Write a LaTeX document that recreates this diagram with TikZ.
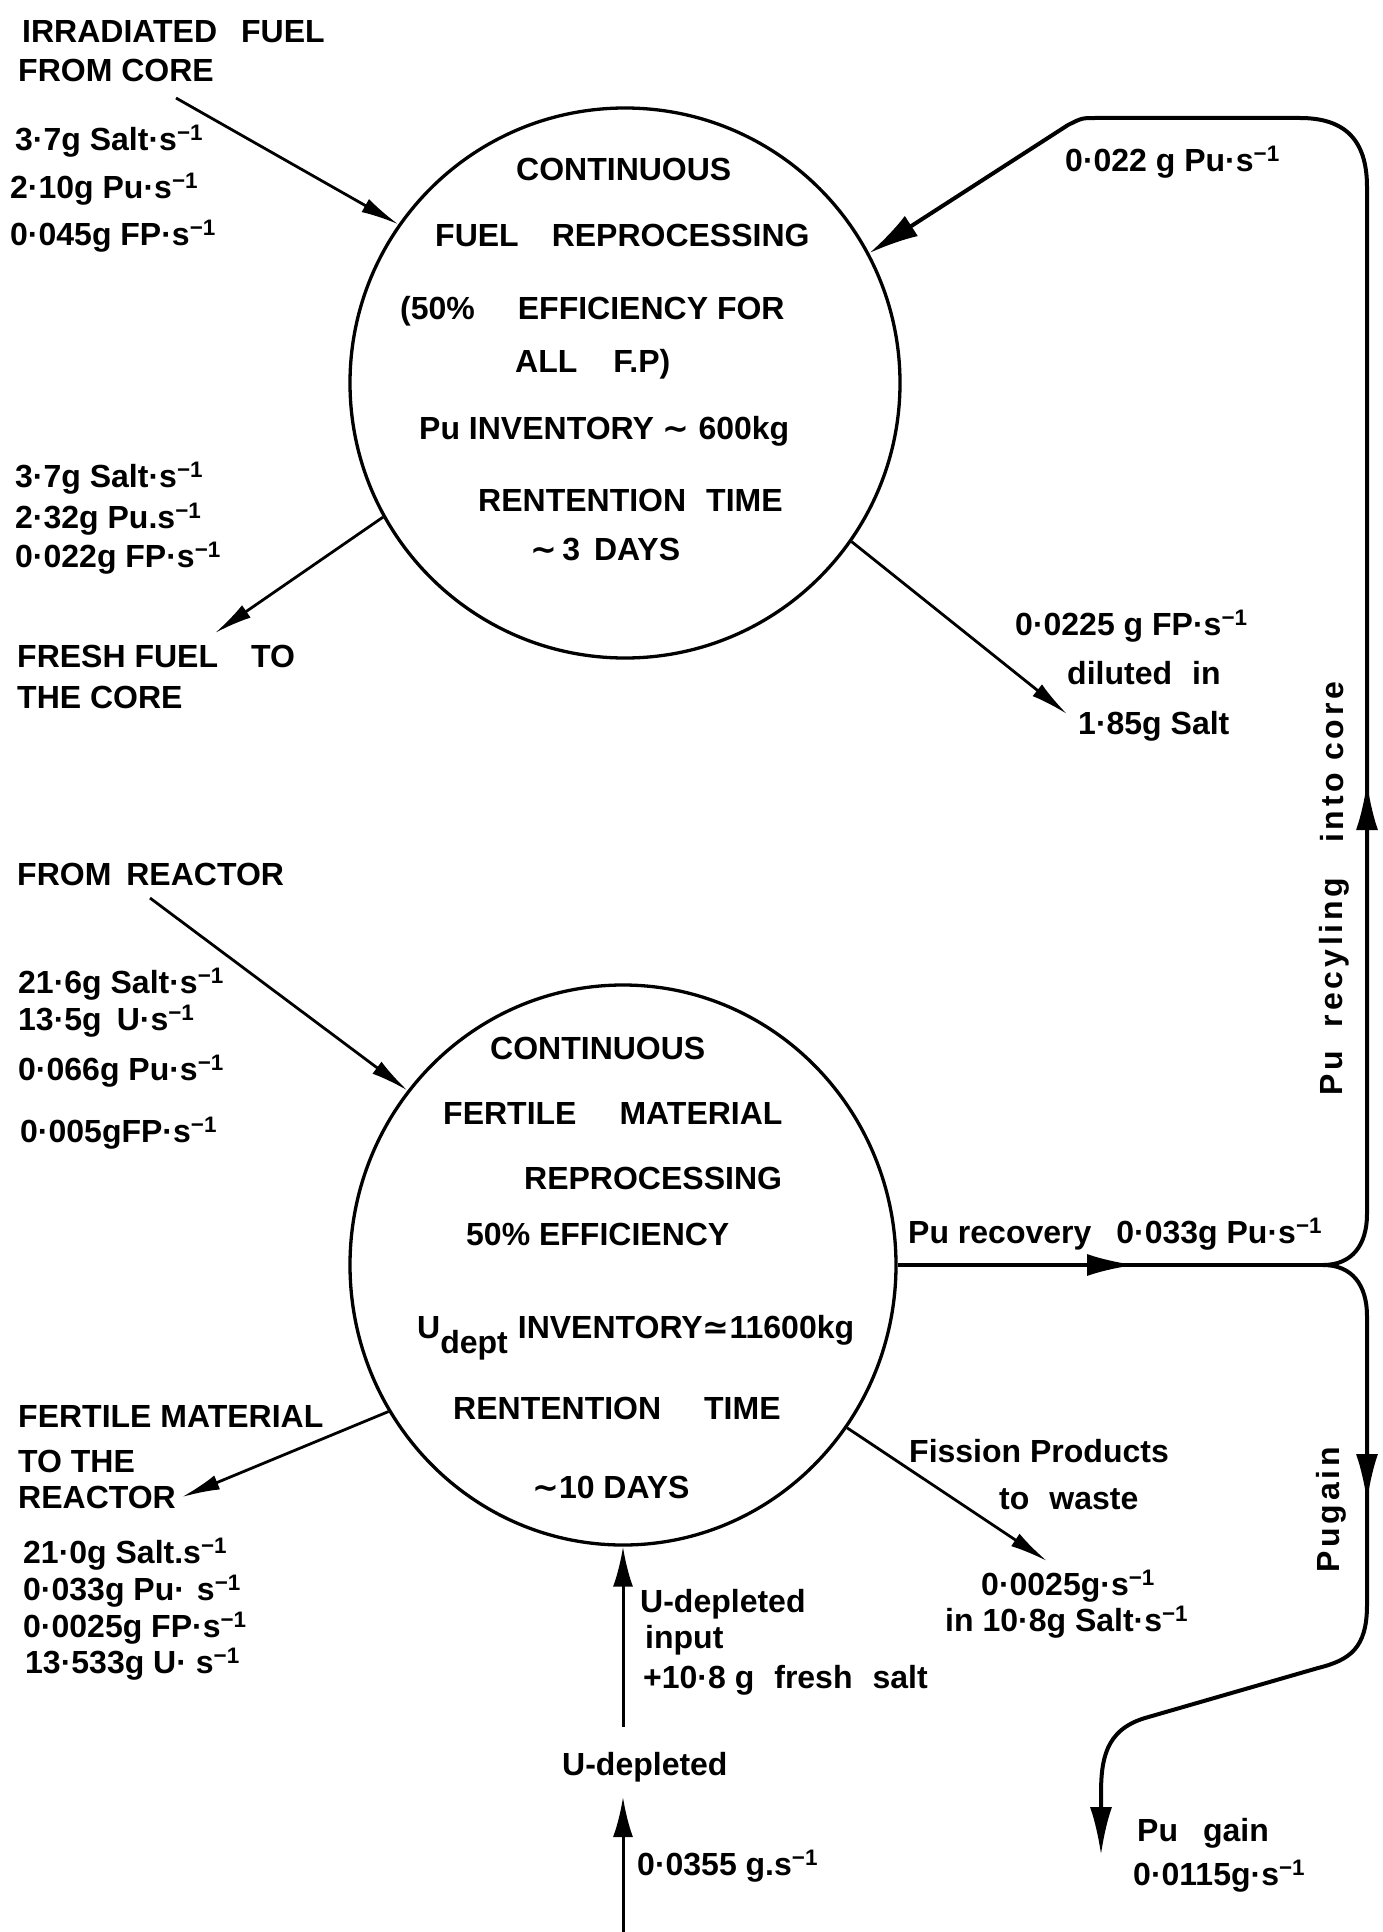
\documentclass[tikz,border=0pt]{standalone}
\usepackage{fontspec}
\setmainfont{Liberation Sans}
\newfontfamily\dejavu{DejaVu Sans}
\newfontfamily\spaced{Liberation Sans}[LetterSpace=12]
\usetikzlibrary{arrows.meta,shapes.geometric}
\newcommand{\sinv}{\textsuperscript{−1}}
\newcommand{\swung}{{\dejavu ∼}}
\begin{document}
\begin{tikzpicture}[x=1pt,y=-1pt,
  t/.style={font=\fontsize{32}{38}\selectfont\bfseries, inner sep=0pt, anchor=base west},
  vt/.style={font=\fontsize{32}{38}\selectfont\spaced\bfseries, inner sep=0pt, anchor=base west, rotate=90},
  ring/.style={draw, line width=3.3pt, inner sep=0pt},
  conn/.style={line width=2.8pt, -{Latex[length=38pt,width=15pt]}},
  upar/.style={line width=3pt, -{Latex[length=40pt,width=20pt]}},
  pipe/.style={line width=4pt},
  midtip/.style={line width=4pt, -{Latex[length=48pt,width=22pt]}}]
\fill[white] (0,0) rectangle (1382,1932);
\useasboundingbox (0,0) rectangle (1382,1932);

% process vessels
\node[ring, circle, minimum size=550pt] (fuel) at (625,383) {};
\node[ring, ellipse, minimum width=546pt, minimum height=560pt] (fert) at (623,1265) {};

% free connector ends
\coordinate (c1) at (176,98);
\coordinate (c2) at (215,633);
\coordinate (c3) at (1067,714);
\coordinate (c4) at (150,898);
\coordinate (c5) at (182,1497);
\coordinate (c6) at (1047,1561);
\coordinate (c7) at (623,1727);
\coordinate (c8) at (623,1932);
\coordinate (c9) at (623,1797);
\coordinate (J) at (1323,1265);
\coordinate (pg) at (1101,1855);

% texts top-left
\node[t] (t1) at (22,43) {IRRADIATED\hspace{24pt}FUEL};
\node[t] (t2) at (18,82) {FROM CORE};
\node[t] (t3) at (15,150) {3·7g Salt·s\sinv};
\node[t] (t4) at (10,198) {2·10g Pu·s\sinv};
\node[t] (t5) at (10,245) {0·045g FP·s\sinv};
\node[t] (t6) at (15,487) {3·7g Salt·s\sinv};
\node[t] (t7) at (15,528) {2·32g Pu.s\sinv};
\node[t] (t8) at (15,567) {0·022g FP·s\sinv};
\node[t] (t9) at (17,667) {FRESH FUEL\hspace{33pt}TO};
\node[t] (t10) at (17,708) {THE CORE};

% top circle text
\node[t] (f1) at (516,180) {CONTINUOUS};
\node[t] (f2) at (435,246) {FUEL\hspace{33pt}REPROCESSING};
\node[t] (f3) at (400,319) {(50\%\hspace{43pt}EFFICIENCY FOR};
\node[t] (f4) at (515,372) {ALL\hspace{36pt}F.P)};
\node[t] (f5) at (419,439) {Pu INVENTORY \swung{} 600kg};
\node[t] (f6) at (478,511) {RENTENTION\hspace{20pt}TIME};
\node[t] (f7) at (530,560) {\swung\,3\hspace{14pt}DAYS};

% top right
\node[t] (r1) at (1065,171) {0·022 g Pu·s\sinv};
\node[t] (r2) at (1015,635) {0·0225 g FP·s\sinv};
\node[t] (r3) at (1067,684) {diluted\hspace{20pt}in};
\node[t] (r4) at (1078,734) {1·85g Salt};

% left middle
\node[t] (m1) at (17,885) {FROM\hspace{15pt}REACTOR};
\node[t] (m2) at (18,993) {21·6g Salt·s\sinv};
\node[t] (m3) at (18,1030) {13·5g\hspace{15pt}U·s\sinv};
\node[t] (m4) at (18,1080) {0·066g Pu·s\sinv};
\node[t] (m5) at (20,1142) {0·005gFP·s\sinv};

% left bottom
\node[t] (l1) at (18,1427) {FERTILE MATERIAL};
\node[t] (l2) at (18,1472) {TO THE};
\node[t] (l3) at (18,1508) {REACTOR};
\node[t] (l4) at (23,1563) {21·0g Salt.s\sinv};
\node[t] (l5) at (23,1600) {0·033g Pu·\hspace{12pt}s\sinv};
\node[t] (l6) at (23,1637) {0·0025g FP·s\sinv};
\node[t] (l7) at (25,1673) {13·533g U· s\sinv};

% bottom circle text
\node[t] (b1) at (490,1059) {CONTINUOUS};
\node[t] (b2) at (443,1124) {FERTILE\hspace{43pt}MATERIAL};
\node[t] (b3) at (524,1189) {REPROCESSING};
\node[t] (b4) at (466,1245) {50\% EFFICIENCY};
\node[t] (b5) at (417,1338) {U\raisebox{-15pt}{dept}\hspace{10pt}INVENTORY{\dejavu ≃}11600kg};
\node[t] (b6) at (453,1419) {RENTENTION\hspace{43pt}TIME};
\node[t] (b7) at (532,1498) {\swung 10 DAYS};

% right bottom
\node[t] (p1) at (908,1243) {Pu recovery\hspace{25pt}0·033g Pu·s\sinv};
\node[t] (p2) at (909,1462) {Fission Products};
\node[t] (p3) at (999,1509) {to\hspace{20pt}waste};
\node[t] (p4) at (981,1595) {0·0025g·s\sinv};
\node[t] (p5) at (945,1631) {in 10·8g Salt·s\sinv};
\node[t] (p6) at (1137,1841) {Pu\hspace{25pt}gain};
\node[t] (p7) at (1133,1885) {0·0115g·s\sinv};

% bottom middle
\node[t] (u1) at (640,1612) {U-depleted};
\node[t] (u2) at (645,1648) {input};
\node[t] (u3) at (643,1688) {+10·8 g\hspace{20pt}fresh\hspace{20pt}salt};
\node[t] (u4) at (562,1775) {U-depleted};
\node[t] (u5) at (637,1875) {0·0355 g.s\sinv};

% rotated labels
\node[vt] (v1) at (1343,843) {into\hspace{12pt}core};
\node[vt] (v2) at (1342,1096) {Pu\hspace{24pt}recyling};
\node[vt] (v3) at (1339,1573) {Pugain};

% connectors
\draw[conn] (c1) -- (fuel.145.8);
\draw[conn] (fuel.209) -- (c2);
\draw[conn] (fuel.325.3) -- (c3);
\draw[conn] (c4) -- (fert.141.9);
\draw[conn] (fert.212.3) -- (c5);
\draw[conn] (fert.324.3) -- (c6);
\draw[upar] (c7) -- (fert.south);
\draw[upar] (c8) -- (c9);

% Pu recovery loop
\draw[pipe] (fert.east) -- (J);
\draw[midtip] (1080,1265) -- (1135,1265);
\draw[pipe, -{Latex[length=50pt,width=24pt]}] (J) .. controls (1352,1265) and (1367,1245) .. (1367,1214)
  -- (1367,187) .. controls (1367,140) and (1345,118) .. (1300,118)
  -- (1095,118) .. controls (1082,118) .. (1068,125) -- (fuel.28.4);
\draw[midtip] (1367,840) -- (1367,782);
\draw[pipe, -{Latex[length=48pt,width=22pt]}] (J) .. controls (1352,1265) and (1367,1285) .. (1367,1316)
  -- (1367,1605) .. controls (1367,1648) and (1350,1660) .. (1318,1668)
  -- (1145,1718) .. controls (1105,1730) and (1101,1760) .. (1101,1795) -- (pg);
\draw[midtip] (1367,1440) -- (1367,1502);
\end{tikzpicture}
\end{document}
